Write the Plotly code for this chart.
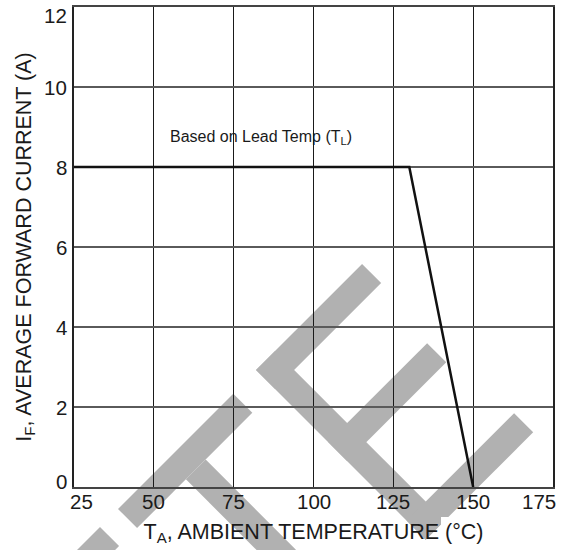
import math
import plotly.graph_objects as go

# ---- data ----
temp_c = [25, 130, 150]
current_a = [8, 8, 0]
x_ticks = [25, 50, 75, 100, 125, 150, 175]
y_ticks = [0, 2, 4, 6, 8, 10, 12]
x_title = "T<sub>A</sub>, AMBIENT TEMPERATURE (°C)"
y_title = "I<sub>F</sub>, AVERAGE FORWARD CURRENT (A)"
note_text = "Based on Lead Temp (T<sub>L</sub>)"
note_pos = (83.5, 8.74)

W, H = 569, 550
ML, MR, MT, MB = 74, 16, 7, 63
PW, PH = W - ML - MR, H - MT - MB

FONT = "Liberation Sans, Arial, sans-serif"
TXT = "#1a1a1a"
GREY = "#b1b1b1"
TICK_SIZE = 20.5

fig = go.Figure()
fig.add_trace(go.Scatter(x=temp_c, y=current_a, mode="lines",
                         line=dict(color="#111111", width=2.5),
                         showlegend=False, hoverinfo="skip"))

# ---- watermark (decoration) ----
r2 = 1 / math.sqrt(2)
U = (r2, -r2)   # up-right
V = (r2, r2)    # down-right


def px2paper(p):
    return ((p[0] - ML) / PW, (MT + PH - p[1]) / PH)


def band(origin, a0, a1, b0, b1):
    pts = []
    for a, b in [(a0, b0), (a1, b0), (a1, b1), (a0, b1)]:
        x = origin[0] + a * U[0] + b * V[0]
        y = origin[1] + a * U[1] + b * V[1]
        pts.append(px2paper((x, y)))
    d = "M " + " L ".join(f"{x:.4f},{y:.4f}" for x, y in pts) + " Z"
    return dict(type="path", path=d, xref="paper", yref="paper",
                fillcolor=GREY, line=dict(width=0), layer="below")


shapes = []
E0 = (256, 370)
shapes += [band(E0, 0, 27, 0, 240), band(E0, 0, 150, 0, 27),
           band(E0, 0, 140, 102, 129), band(E0, 0, 152, 213, 240)]
T0 = (118, 509)
shapes += [band(T0, 0, 163, 0, 27), band(T0, 69, 97, 27, 240)]
B0 = (100, 527)
shapes += [band(B0, -150, 0, 0, 27)]
x0, y0 = px2paper((441, 517))
shapes.append(dict(type="rect", xref="paper", yref="paper", x0=x0, x1=1.2,
                   y0=y0, y1=-0.3, fillcolor="white", line=dict(width=0),
                   layer="below"))

# ---- tick labels as annotations (end labels nudged inward as in the reference) ----
annotations = []
x_shift = {25: 7, 175: -14}
for v in x_ticks:
    annotations.append(dict(x=v, y=0, xref="x", yref="paper", text=str(v),
                            showarrow=False, xanchor="center", yanchor="middle",
                            xshift=x_shift.get(v, 0), yshift=-14,
                            font=dict(size=TICK_SIZE, color=TXT, family=FONT)))
y_shift = {12: -8, 0: 6}
for v in y_ticks:
    annotations.append(dict(x=0, y=v, xref="paper", yref="y", text=str(v),
                            showarrow=False, xanchor="right", yanchor="middle",
                            xshift=-5, yshift=y_shift.get(v, 0),
                            font=dict(size=TICK_SIZE, color=TXT, family=FONT)))
annotations.append(dict(x=note_pos[0], y=note_pos[1], xref="x", yref="y",
                        text=note_text, showarrow=False,
                        font=dict(size=16, color=TXT, family=FONT)))

fig.update_layout(
    width=W, height=H,
    margin=dict(l=ML, r=MR, t=MT, b=MB, pad=0, autoexpand=False),
    paper_bgcolor="white", plot_bgcolor="rgba(0,0,0,0)",
    font=dict(family=FONT, color=TXT, size=18),
    shapes=shapes,
    annotations=annotations,
)
fig.update_xaxes(range=[25, 175], tickvals=x_ticks, showticklabels=False,
                 showgrid=True, gridcolor="#1a1a1a", gridwidth=1,
                 showline=True, linecolor="#444444", linewidth=1.5, mirror=True,
                 zeroline=False, ticks="", automargin=False,
                 title=dict(text=x_title, font=dict(size=21.5, color=TXT), standoff=36))
fig.update_yaxes(range=[0, 12], tickvals=y_ticks, showticklabels=False,
                 showgrid=True, gridcolor="#5a5a5a", gridwidth=1.5,
                 showline=True, linecolor="#222222", linewidth=1.5, mirror=True,
                 zeroline=False, ticks="", automargin=False,
                 title=dict(text=y_title, font=dict(size=21.5, color=TXT), standoff=35))

fig.write_html("out.html")
